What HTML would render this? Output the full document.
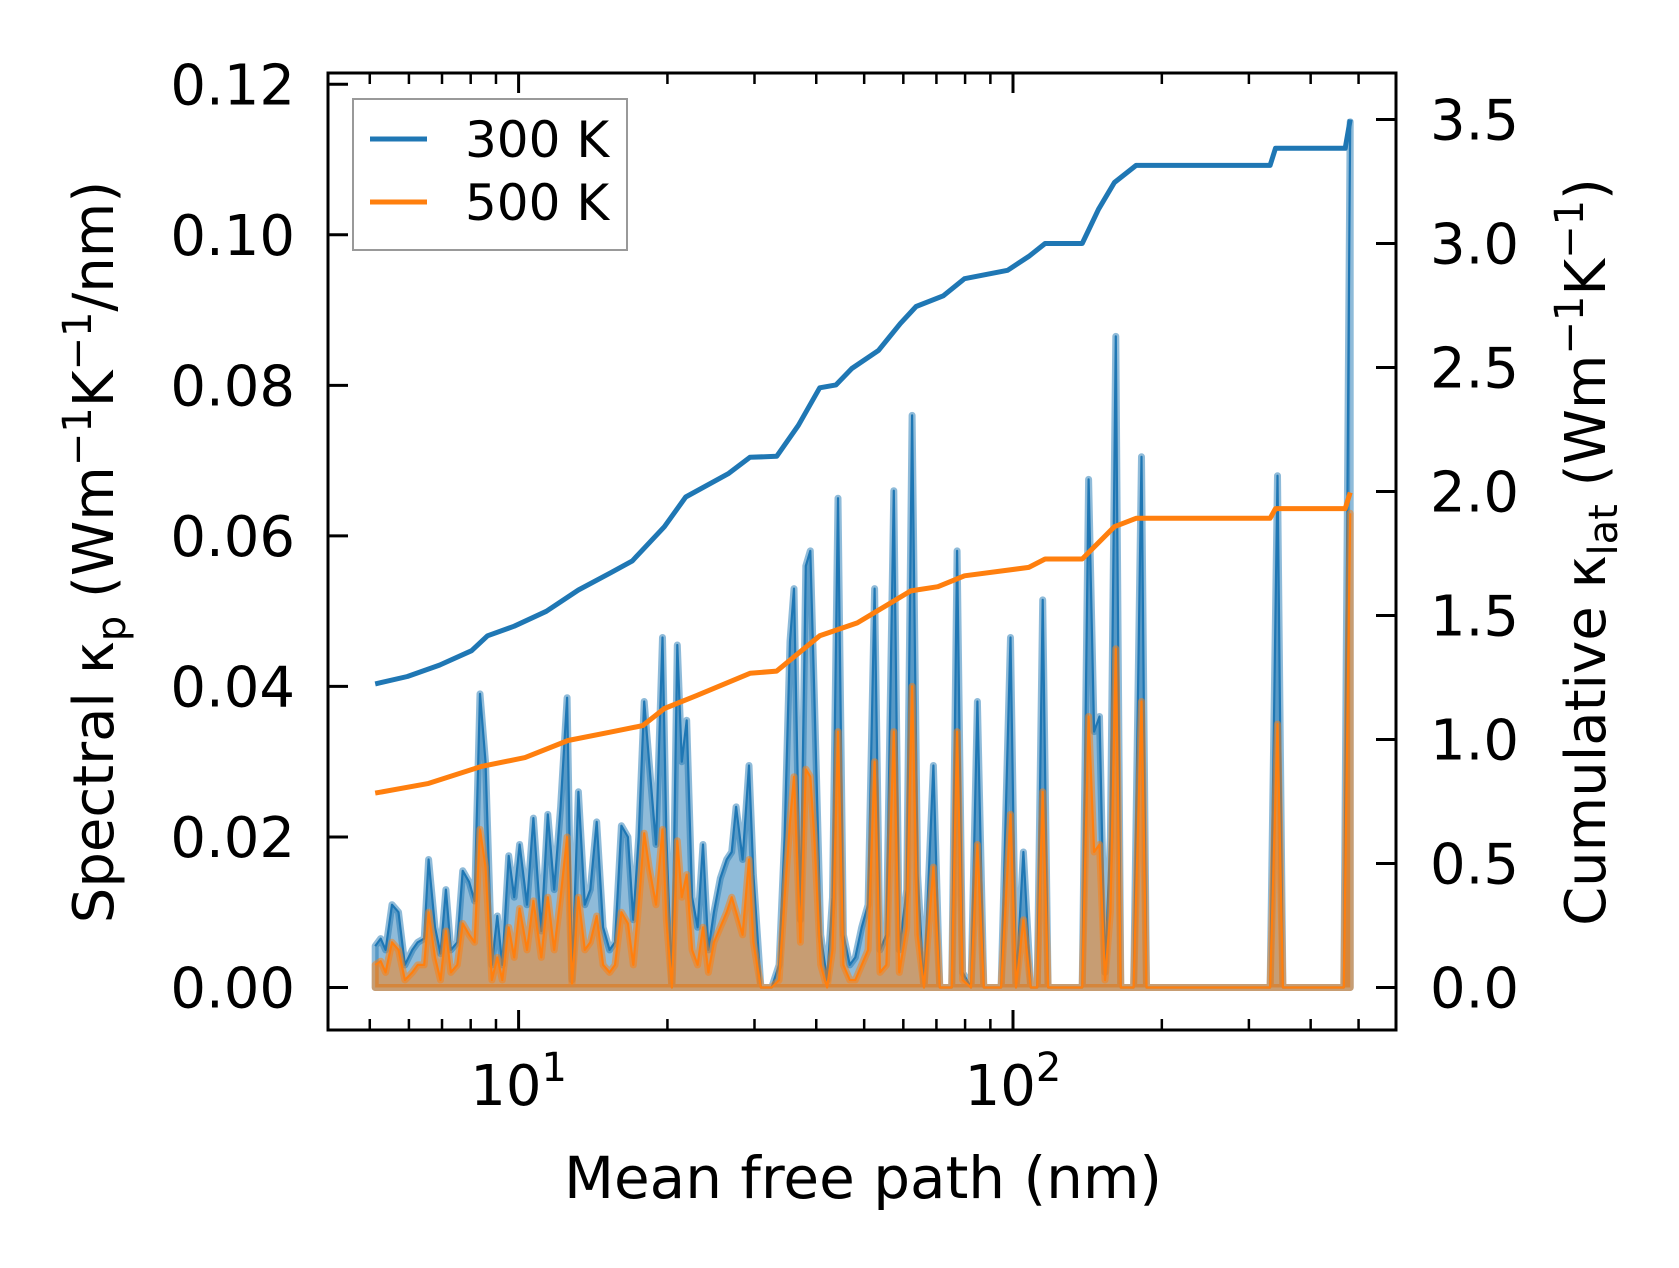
<!DOCTYPE html>
<html><head><meta charset="utf-8"><style>
html,body{margin:0;padding:0;background:#fff;}
svg{display:block;font-family:"DejaVu Sans","Liberation Sans",sans-serif;}
</style></head><body>
<svg id="chart" width="1679" height="1268" viewBox="0 0 1679 1268" xmlns="http://www.w3.org/2000/svg">
<rect width="1679" height="1268" fill="#fff"/>
<g id="plot"></g>
</svg>
<script>
// spectral data: log10 of mean free path (nm), spectral kappa values
const specLogMfp = [0.710,0.721,0.731,0.744,0.757,0.770,0.785,0.796,0.809,0.818,0.831,0.842,0.853,0.863,0.876,0.887,0.900,0.911,0.922,0.933,0.946,0.957,0.967,0.980,0.991,1.002,1.017,1.030,1.046,1.059,1.072,1.085,1.098,1.108,1.121,1.134,1.145,1.158,1.171,1.184,1.195,1.208,1.221,1.232,1.243,1.254,1.264,1.278,1.291,1.299,1.310,1.321,1.330,1.340,1.351,1.362,1.373,1.384,1.395,1.408,1.421,1.431,1.440,1.453,1.466,1.475,1.490,1.512,1.527,1.538,1.549,1.557,1.570,1.581,1.590,1.598,1.611,1.624,1.635,1.646,1.657,1.670,1.681,1.694,1.707,1.720,1.731,1.744,1.759,1.770,1.785,1.796,1.807,1.820,1.839,1.852,1.876,1.887,1.898,1.915,1.928,1.941,1.976,1.995,2.006,2.021,2.036,2.049,2.060,2.071,2.140,2.153,2.164,2.175,2.186,2.197,2.208,2.218,2.244,2.260,2.270,2.520,2.535,2.546,2.669,2.682];
const spec300 = [0.0055,0.0065,0.005,0.011,0.010,0.003,0.005,0.006,0.0065,0.017,0.008,0.0045,0.013,0.005,0.006,0.0155,0.014,0.0115,0.039,0.030,0.003,0.0095,0.003,0.0175,0.012,0.019,0.011,0.0225,0.0075,0.023,0.013,0.024,0.0385,0.001,0.026,0.011,0.013,0.022,0.008,0.005,0.006,0.0215,0.020,0.009,0.020,0.038,0.030,0.019,0.0465,0.020,0,0.0455,0.030,0.0355,0.012,0.008,0.019,0.005,0.010,0.0145,0.017,0.018,0.024,0.017,0.0295,0.015,0,0,0.003,0.020,0.046,0.053,0.009,0.056,0.058,0.039,0.007,0.001,0.012,0.065,0.007,0.003,0.004,0.008,0.011,0.053,0.005,0.007,0.066,0.005,0.013,0.076,0.015,0,0.0295,0,0,0.058,0.002,0,0.038,0,0,0.0465,0,0.018,0,0,0.0515,0,0,0.0675,0.034,0.036,0.002,0.020,0.0865,0,0,0.0705,0,0,0.068,0,0,0.115];
const spec500 = [0.003,0.0035,0.002,0.006,0.005,0.001,0.002,0.003,0.003,0.010,0.004,0.001,0.0075,0.002,0.003,0.0085,0.007,0.006,0.021,0.016,0.001,0.004,0.001,0.008,0.004,0.0105,0.005,0.0115,0.004,0.012,0.005,0.012,0.020,0.0005,0.012,0.005,0.006,0.0095,0.003,0.002,0.003,0.010,0.0085,0.003,0.011,0.0205,0.016,0.011,0.021,0.009,0,0.0195,0.012,0.015,0.005,0.003,0.008,0.002,0.006,0.008,0.010,0.012,0.010,0.007,0.017,0.006,0,0,0.001,0.012,0.022,0.028,0.006,0.029,0.028,0.020,0.003,0,0.005,0.034,0.003,0.001,0.001,0.003,0.005,0.030,0.002,0.003,0.034,0.002,0.008,0.040,0.007,0,0.016,0,0,0.034,0.001,0,0.019,0,0,0.023,0,0.009,0,0,0.026,0,0,0.036,0.018,0.019,0.001,0.010,0.045,0,0,0.038,0,0,0.035,0,0,0.063];
// cumulative curves
const cum300LogMfp = [0.710,0.775,0.840,0.905,0.937,0.991,1.056,1.121,1.186,1.230,1.295,1.338,1.425,1.468,1.522,1.566,1.609,1.642,1.674,1.728,1.772,1.804,1.859,1.902,1.989,2.032,2.065,2.140,2.173,2.205,2.249,2.520,2.531,2.672,2.682];
const cum300 = [1.224,1.254,1.300,1.358,1.418,1.457,1.517,1.603,1.672,1.720,1.858,1.978,2.073,2.138,2.142,2.267,2.418,2.430,2.496,2.569,2.677,2.746,2.789,2.858,2.892,2.948,3.000,3.000,3.138,3.246,3.315,3.315,3.384,3.384,3.500];
const cum500LogMfp = [0.710,0.818,0.926,1.013,1.100,1.186,1.251,1.295,1.360,1.468,1.522,1.609,1.685,1.793,1.848,1.902,2.032,2.065,2.140,2.205,2.249,2.520,2.531,2.672,2.682];
const cum500 = [0.784,0.823,0.892,0.927,0.996,1.030,1.056,1.125,1.177,1.267,1.276,1.418,1.470,1.599,1.616,1.660,1.694,1.728,1.728,1.858,1.892,1.892,1.931,1.931,1.996];
const leftTicks = ["0.00","0.02","0.04","0.06","0.08","0.10","0.12"];
const rightTicks = ["0.0","0.5","1.0","1.5","2.0","2.5","3.0","3.5"];
const xMajorExp = [1,2];

const L=328,R=1396,T=73,B=1030;
const xS = l => 518.6 + (l-1)*494.4;
const yL = v => 987.5 - v*7527;
const yR = v => 987.5 - v*248;
const NS="http://www.w3.org/2000/svg";
const plot=document.getElementById('plot');
function mk(tag,attrs,parent){const e=document.createElementNS(NS,tag);for(const k in attrs)e.setAttribute(k,attrs[k]);(parent||plot).appendChild(e);return e;}

function spectral(vals,color,name){
  const g=mk('g',{});
  
  
  let top=specLogMfp.map((l,i)=>xS(l).toFixed(1)+','+yL(vals[i]).toFixed(1));
  const x0=xS(specLogMfp[0]).toFixed(1), x1=xS(specLogMfp[specLogMfp.length-1]).toFixed(1), y0=yL(0).toFixed(1);
  const area=mk('path',{d:'M'+x0+','+y0+' L'+top.join(' L')+' L'+x1+','+y0+'Z',fill:color,'fill-opacity':0.5,stroke:color,'stroke-opacity':0.5,'stroke-width':7,'stroke-linejoin':'round'},g);
  
  
  const line=mk('polyline',{points:top.join(' '),fill:'none',stroke:color,'stroke-width':2.2,'stroke-linejoin':'round'},g);
  
  
}
spectral(spec300,'#1f77b4','series-300k');
spectral(spec500,'#ff7f0e','series-500k');

function cum(xs,vals,color,name){
  const p=mk('polyline',{points:xs.map((l,i)=>xS(l).toFixed(1)+','+yR(vals[i]).toFixed(1)).join(' '),fill:'none',stroke:color,'stroke-width':5,'stroke-linejoin':'round'});
  
  
}
cum(cum300LogMfp,cum300,'#1f77b4','cumulative-300k-line');
cum(cum500LogMfp,cum500,'#ff7f0e','cumulative-500k-line');

// frame
const frame=mk('rect',{x:L,y:T,width:R-L,height:B-T,fill:'none',stroke:'#000','stroke-width':3});



leftTicks.forEach(t=>{const y=yL(parseFloat(t));
  const tk=mk('line',{x1:L,x2:L+20,y1:y,y2:y,stroke:'#000','stroke-width':3});
  
  
  const tx=mk('text',{x:295,y:y+20,'text-anchor':'end','font-size':56});
  tx.textContent=t;
  
  
});
rightTicks.forEach(t=>{const y=yR(parseFloat(t));
  const tk=mk('line',{x1:R-20,x2:R,y1:y,y2:y,stroke:'#000','stroke-width':3});
  
  
  const tx=mk('text',{x:1430,y:y+20,'text-anchor':'start','font-size':56});
  tx.textContent=t;
  
  
});
for(let e=0;e<=2;e++){for(let m=1;m<=9;m++){
  const l=e+Math.log10(m); const x=xS(l); if(x<L+1||x>R-1)continue;
  const major=(m===1); const len=major?20:11;
  [[B,B-len],[T,T+len]].forEach(([a,b])=>{const tk=mk('line',{x1:x,x2:x,y1:a,y2:b,stroke:'#000','stroke-width':major?3:2.5});
    
    });
}}
xMajorExp.forEach(e=>{const x=xS(e);
  const tx=mk('text',{x:x,y:1105,'text-anchor':'middle','font-size':56});
  
  
  tx.textContent='10';
  const sup=mk('tspan',{dy:-24,'font-size':40},tx); sup.textContent=String(e);
});
</script>
<svg style="position:absolute;left:0;top:0" width="1679" height="1268">
<text x="863" y="1198" text-anchor="middle" font-size="58" font-family="DejaVu Sans, Liberation Sans, sans-serif">Mean free path (nm)</text>
<text transform="translate(113,552) rotate(-90)" text-anchor="middle" font-size="56" font-family="DejaVu Sans, Liberation Sans, sans-serif">Spectral κ<tspan font-size="40" dy="12">p</tspan><tspan dy="-12"> (Wm</tspan><tspan font-size="40" dy="-22">−1</tspan><tspan dy="22">K</tspan><tspan font-size="40" dy="-22">−1</tspan><tspan dy="22">/nm)</tspan></text>
<text transform="translate(1605,552) rotate(-90)" text-anchor="middle" font-size="56" font-family="DejaVu Sans, Liberation Sans, sans-serif">Cumulative κ<tspan font-size="40" dy="12">lat</tspan><tspan dy="-12"> (Wm</tspan><tspan font-size="40" dy="-22">−1</tspan><tspan dy="22">K</tspan><tspan font-size="40" dy="-22">−1</tspan><tspan dy="22">)</tspan></text>
<g>
<rect x="353" y="99" width="274" height="151" fill="#fff" fill-opacity="0.8" stroke="#999" stroke-width="2"/>
<line x1="370" x2="427" y1="139" y2="139" stroke="#1f77b4" stroke-width="5"/>
<text x="465" y="157" font-size="50" font-family="DejaVu Sans, Liberation Sans, sans-serif">300 K</text>
<line x1="370" x2="427" y1="202" y2="202" stroke="#ff7f0e" stroke-width="5"/>
<text x="465" y="220" font-size="50" font-family="DejaVu Sans, Liberation Sans, sans-serif">500 K</text>
</g>
</svg>
</body></html>
